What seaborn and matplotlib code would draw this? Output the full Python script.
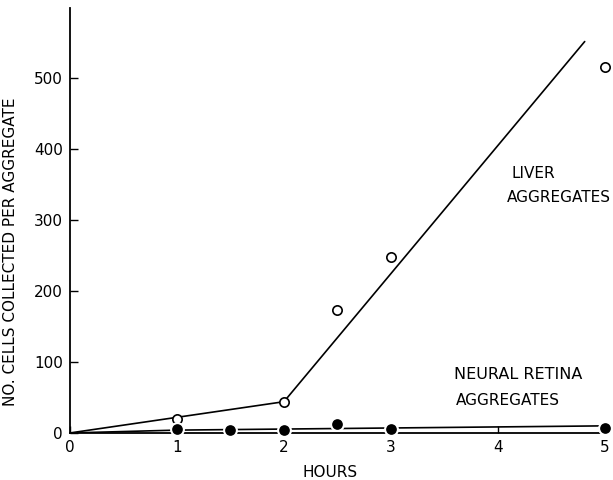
import matplotlib
matplotlib.use("Agg")
import matplotlib.pyplot as plt
import seaborn as sns
import pandas as pd

# Data
liver_hours = [1, 2, 2.5, 3, 5]
liver_cells = [20, 44, 173, 248, 515]
liver_fit_hours = [0, 1, 2, 4.81]
liver_fit_cells = [0, 22, 44, 551]

retina_hours = [1, 1.5, 2, 2.5, 3, 5]
retina_cells = [5, 4, 4, 12, 6, 7]
retina_fit_hours = [0, 1, 5]
retina_fit_cells = [0, 4, 10]

x_ticks = [0, 1, 2, 3, 4, 5]
x_tick_labels = ["0", "1", "2", "3", "4", "5"]
y_ticks = [0, 100, 200, 300, 400, 500]
y_tick_labels = ["0", "100", "200", "300", "400", "500"]

sns.set_style("ticks")
plt.rcParams['font.family'] = ['DejaVu Sans']
plt.rcParams['text.color'] = 'black'
plt.rcParams['axes.labelcolor'] = 'black'
plt.rcParams['xtick.color'] = 'black'
plt.rcParams['ytick.color'] = 'black'

fig = plt.figure(figsize=(6.13, 4.8), dpi=100)
ax = fig.add_axes([0.114, 0.098, 0.873, 0.885])

sns.lineplot(x=liver_fit_hours, y=liver_fit_cells, ax=ax, color="black",
             linewidth=1.2, zorder=2, sort=False)
sns.lineplot(x=retina_fit_hours, y=retina_fit_cells, ax=ax, color="black",
             linewidth=1.2, zorder=2, sort=False)

sns.scatterplot(x=liver_hours, y=liver_cells, ax=ax, marker="o", s=45,
                facecolor="white", edgecolor="black", linewidth=1.2, zorder=3)
sns.scatterplot(x=retina_hours, y=retina_cells, ax=ax, marker="o", s=85,
                color="black", edgecolor="white", linewidth=1.5, zorder=3)

ax.set_xlim(0, 5)
ax.set_ylim(0, 598)
ax.set_xticks(x_ticks)
ax.set_xticklabels(x_tick_labels)
ax.set_yticks(y_ticks)
ax.set_yticklabels(y_tick_labels)
ax.tick_params(axis="x", direction="in", length=5, width=1, labelsize=11, pad=5,
               colors="black")
ax.tick_params(axis="y", direction="in", length=6, width=1, labelsize=11, pad=5,
               colors="black")

for s in ["top", "right"]:
    ax.spines[s].set_visible(False)
for s in ["left", "bottom"]:
    ax.spines[s].set_linewidth(1.3)
    ax.spines[s].set_color("black")

ax.set_xlabel("HOURS", fontsize=11, color="black")
ax.set_ylabel("NO. CELLS COLLECTED PER AGGREGATE", fontsize=11, color="black")
ax.xaxis.set_label_coords(0.486, -0.075)
ax.yaxis.set_label_coords(-0.097, 0.426)

ax.text(4.13, 365, "LIVER", fontsize=11, ha="left", va="center", color="black")
ax.text(4.08, 332, "AGGREGATES", fontsize=11, ha="left", va="center", color="black")
ax.text(3.59, 82, "NEURAL RETINA", fontsize=11.5, ha="left", va="center", color="black")
ax.text(3.61, 46, "AGGREGATES", fontsize=11, ha="left", va="center", color="black")

for coll in ax.collections:
    coll.set_clip_on(False)

fig.savefig("out.png", dpi=100)
